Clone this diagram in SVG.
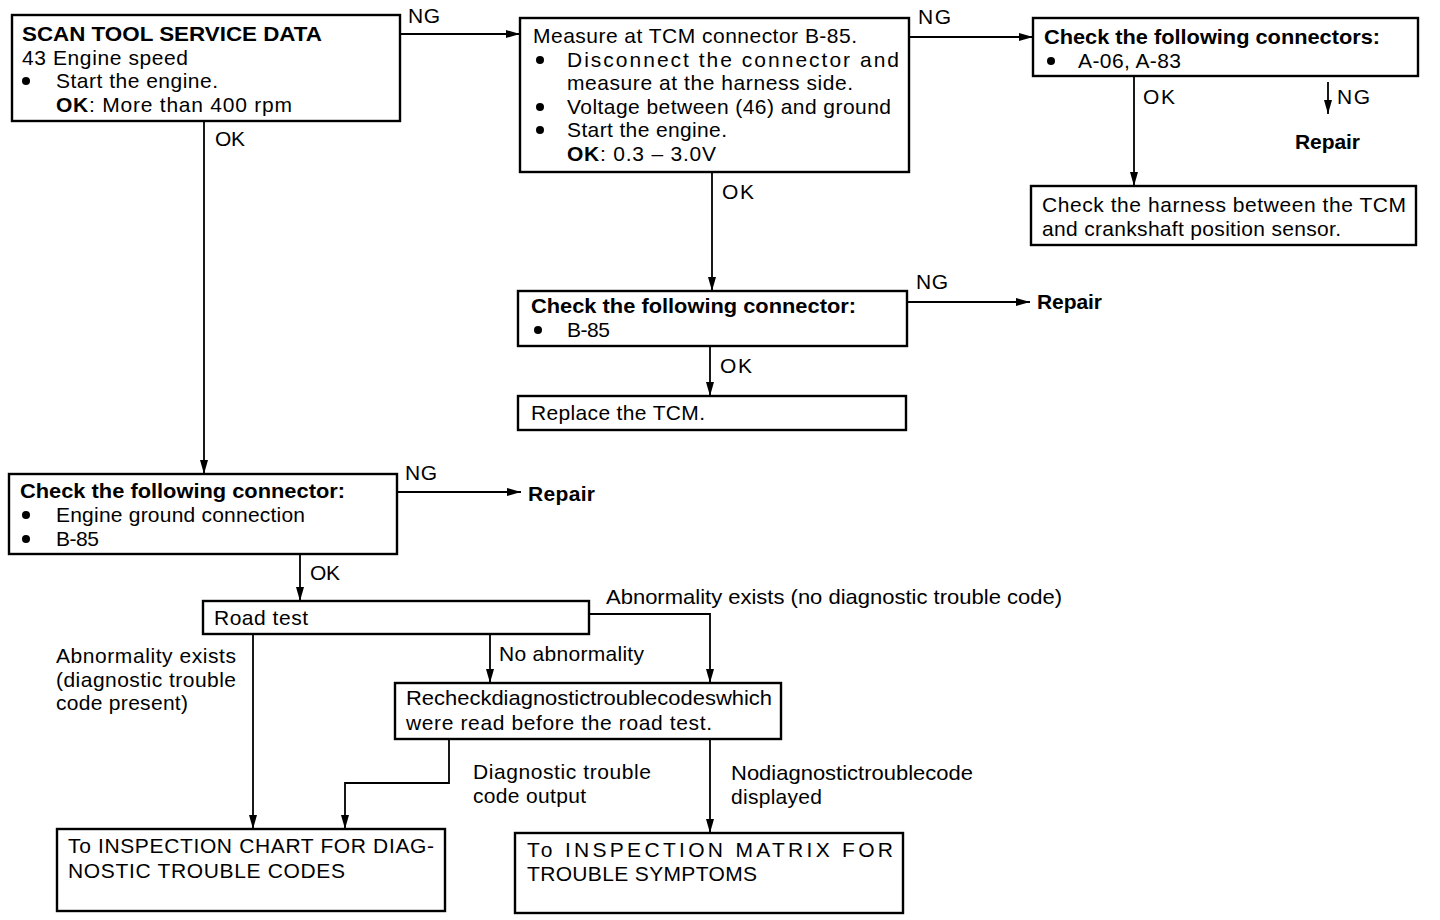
<svg xmlns="http://www.w3.org/2000/svg" width="1440" height="920" viewBox="0 0 1440 920">
<style>
text{font-family:"Liberation Sans",Arial,sans-serif;font-size:21px;fill:#000}
.b{font-weight:bold}
.box{fill:#fff;stroke:#000;stroke-width:2.4}
.c{fill:none;stroke:#000;stroke-width:1.8}
.dot{fill:#000}
</style>
<defs>
<marker id="ah" viewBox="0 0 14 8" refX="14" refY="4" markerWidth="14" markerHeight="8" markerUnits="userSpaceOnUse" orient="auto">
<path d="M0,0 L14,4 L0,8 Z" fill="#000"/>
</marker>
</defs>
<rect width="1440" height="920" fill="#fff"/>

<g id="connectors">
<path class="c" d="M400,34 H520" marker-end="url(#ah)"/>
<path class="c" d="M204,121 V474" marker-end="url(#ah)"/>
<path class="c" d="M909,37 H1033" marker-end="url(#ah)"/>
<path class="c" d="M1134,76 V186" marker-end="url(#ah)"/>
<path class="c" d="M1328,82 V114" marker-end="url(#ah)"/>
<path class="c" d="M712,172 V291" marker-end="url(#ah)"/>
<path class="c" d="M907,302 H1030" marker-end="url(#ah)"/>
<path class="c" d="M710,346 V396" marker-end="url(#ah)"/>
<path class="c" d="M397,492 H521" marker-end="url(#ah)"/>
<path class="c" d="M300,554 V601" marker-end="url(#ah)"/>
<path class="c" d="M589,614 H710 V683" marker-end="url(#ah)"/>
<path class="c" d="M490,634 V683" marker-end="url(#ah)"/>
<path class="c" d="M253,634 V829" marker-end="url(#ah)"/>
<path class="c" d="M449,739 V783 H345 V829" marker-end="url(#ah)"/>
<path class="c" d="M710,739 V833" marker-end="url(#ah)"/>
<text x="408" y="23" textLength="32">NG</text>
<text x="215" y="146" textLength="30">OK</text>
<text x="918" y="24" textLength="33">NG</text>
<text x="1143" y="104" textLength="32">OK</text>
<text x="1337" y="104" textLength="33">NG</text>
<text class="b" x="1295" y="149" textLength="65">Repair</text>
<text x="722" y="199" textLength="32">OK</text>
<text x="916" y="289" textLength="32">NG</text>
<text class="b" x="1037" y="309" textLength="65">Repair</text>
<text x="720" y="373" textLength="32">OK</text>
<text x="405" y="480" textLength="32">NG</text>
<text class="b" x="528" y="501" textLength="67">Repair</text>
<text x="310" y="580" textLength="30">OK</text>
<text x="606" y="604" textLength="456" lengthAdjust="spacingAndGlyphs">Abnormality exists (no diagnostic trouble code)</text>
<text x="499" y="661" textLength="145">No abnormality</text>
<text x="56" y="663" textLength="180">Abnormality exists</text>
<text x="56" y="687" textLength="180">(diagnostic trouble</text>
<text x="56" y="710" textLength="132">code present)</text>
<text x="473" y="779" textLength="178">Diagnostic trouble</text>
<text x="473" y="803" textLength="113">code output</text>
<text x="731" y="780" textLength="242" lengthAdjust="spacingAndGlyphs">Nodiagnostictroublecode</text>
<text x="731" y="804" textLength="91">displayed</text>
</g>

<g id="n1">
<rect class="box" x="12" y="15" width="388" height="106"/>
<text class="b" x="22" y="41" textLength="300" lengthAdjust="spacingAndGlyphs">SCAN TOOL SERVICE DATA</text>
<text x="22" y="65" textLength="166">43 Engine speed</text>
<circle class="dot" cx="26" cy="81" r="4"/>
<text x="56" y="88" textLength="162">Start the engine.</text>
<text x="56" y="112" textLength="236"><tspan class="b">OK</tspan>: More than 400 rpm</text>
</g>

<g id="n2">
<rect class="box" x="520" y="18" width="389" height="154"/>
<text x="533" y="43" textLength="324">Measure at TCM connector B-85.</text>
<circle class="dot" cx="540" cy="60" r="4"/>
<text x="567" y="67" textLength="332">Disconnect the connector and</text>
<text x="567" y="90" textLength="286">measure at the harness side.</text>
<circle class="dot" cx="540" cy="107" r="4"/>
<text x="567" y="114" textLength="324">Voltage between (46) and ground</text>
<circle class="dot" cx="540" cy="130" r="4"/>
<text x="567" y="137" textLength="160">Start the engine.</text>
<text x="567" y="161" textLength="149"><tspan class="b">OK</tspan>: 0.3 – 3.0V</text>
</g>

<g id="n3">
<rect class="box" x="1033" y="18" width="385" height="58"/>
<text class="b" x="1044" y="44" textLength="336" lengthAdjust="spacingAndGlyphs">Check the following connectors:</text>
<circle class="dot" cx="1051" cy="61" r="4"/>
<text x="1078" y="68" textLength="103">A-06, A-83</text>
</g>

<g id="n4">
<rect class="box" x="1031" y="186" width="385" height="59"/>
<text x="1042" y="212" textLength="364">Check the harness between the TCM</text>
<text x="1042" y="236" textLength="299">and crankshaft position sensor.</text>
</g>

<g id="n5">
<rect class="box" x="518" y="291" width="389" height="55"/>
<text class="b" x="531" y="313" textLength="325" lengthAdjust="spacingAndGlyphs">Check the following connector:</text>
<circle class="dot" cx="538" cy="330" r="4"/>
<text x="567" y="337" textLength="43">B-85</text>
</g>

<g id="n6">
<rect class="box" x="518" y="396" width="388" height="34"/>
<text x="531" y="420" textLength="174">Replace the TCM.</text>
</g>

<g id="n7">
<rect class="box" x="9" y="474" width="388" height="80"/>
<text class="b" x="20" y="498" textLength="325" lengthAdjust="spacingAndGlyphs">Check the following connector:</text>
<circle class="dot" cx="26" cy="515" r="4"/>
<text x="56" y="522" textLength="249">Engine ground connection</text>
<circle class="dot" cx="26" cy="539" r="4"/>
<text x="56" y="546" textLength="43">B-85</text>
</g>

<g id="n8">
<rect class="box" x="203" y="601" width="386" height="33"/>
<text x="214" y="625" textLength="94">Road test</text>
</g>

<g id="n9">
<rect class="box" x="395" y="683" width="386" height="56"/>
<text x="406" y="705" textLength="366" lengthAdjust="spacingAndGlyphs">Recheckdiagnostictroublecodeswhich</text>
<text x="406" y="730" textLength="306">were read before the road test.</text>
</g>

<g id="n10">
<rect class="box" x="57" y="829" width="388" height="82"/>
<text x="68" y="853" textLength="366">To INSPECTION CHART FOR DIAG-</text>
<text x="68" y="878" textLength="277">NOSTIC TROUBLE CODES</text>
</g>

<g id="n11">
<rect class="box" x="515" y="833" width="388" height="80"/>
<text x="527" y="857" textLength="366">To INSPECTION MATRIX FOR</text>
<text x="527" y="881" textLength="230">TROUBLE SYMPTOMS</text>
</g>
</svg>
